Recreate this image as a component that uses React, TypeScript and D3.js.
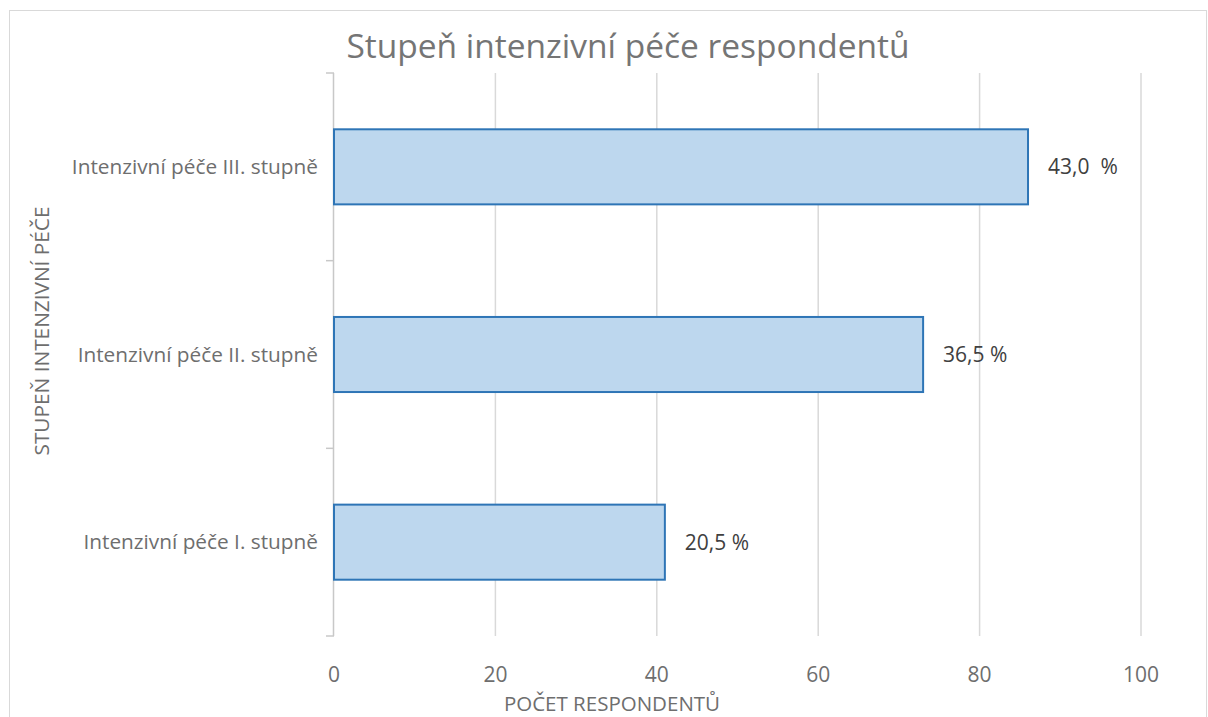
import React from "react";
import * as d3 from "d3";

const categories = ["Intenzivní péče III. stupně", "Intenzivní péče II. stupně", "Intenzivní péče I. stupně"];
const counts = [86, 73, 41];
const percentLabels = ["43,0\u00a0 %", "36,5 %", "20,5 %"];
const xTicks = [0, 20, 40, 60, 80, 100];

const W = 1208;
const H = 717;
const plot = { left: 334, right: 1141, top: 73, bottom: 636 };
const FONT = "'Open Sans', 'Noto Sans', sans-serif";

export default function App() {
  const x = d3.scaleLinear().domain([0, 100]).range([plot.left, plot.right]);
  const y = d3.scaleBand<string>().domain(categories).range([plot.top, plot.bottom]).paddingInner(0.6).paddingOuter(0.3);
  const yEdges = d3.range(categories.length + 1).map((i) => plot.top + (i * (plot.bottom - plot.top)) / categories.length);

  return (
    <svg width={W} height={H} style={{ position: "absolute", left: 0, top: 0, background: "#fff" }} fontFamily={FONT}>
      <rect x={9.5} y={10.5} width={1197} height={720} fill="#fff" stroke="#d9d9d9" />
      <text x={628} y={58} textAnchor="middle" fontSize={33.5} fill="#757575">Stupeň intenzivní péče respondentů</text>
      {xTicks.filter((t) => t > 0).map((t) => (
        <line key={t} x1={x(t)} x2={x(t)} y1={plot.top} y2={plot.bottom} stroke="#d9d9d9" strokeWidth={1.5} />
      ))}
      <line x1={plot.left - 0.5} x2={plot.left - 0.5} y1={plot.top} y2={plot.bottom} stroke="#c8c8c8" strokeWidth={1.5} />
      {yEdges.map((v, i) => (
        <line key={i} x1={plot.left - 8} x2={plot.left} y1={v} y2={v} stroke="#c8c8c8" strokeWidth={1.5} />
      ))}
      {categories.map((c, i) => (
        <g key={c}>
          <rect x={x(0)} y={y(c)!} width={x(counts[i]) - x(0)} height={y.bandwidth()} fill="#bdd7ee" stroke="#2e75b6" strokeWidth={2} />
          <text x={x(counts[i]) + 20} y={y(c)! + y.bandwidth() / 2} dy="0.35em" fontSize={21} fill="#404040">{percentLabels[i]}</text>
          <text x={318} y={y(c)! + y.bandwidth() / 2} dy="0.35em" textAnchor="end" fontSize={20.8} fill="#6e6e6e">{c}</text>
        </g>
      ))}
      {xTicks.map((t) => (
        <text key={t} x={x(t)} y={675} dy="0.35em" textAnchor="middle" fontSize={21} fill="#6e6e6e">{t}</text>
      ))}
      <text x={612} y={704} dy="0.35em" textAnchor="middle" fontSize={20.5} fill="#6e6e6e">POČET RESPONDENTŮ</text>
      <text transform={`translate(42,331) rotate(-90)`} dy="0.35em" textAnchor="middle" fontSize={20.8} fill="#6e6e6e">STUPEŇ INTENZIVNÍ PÉČE</text>
    </svg>
  );
}
